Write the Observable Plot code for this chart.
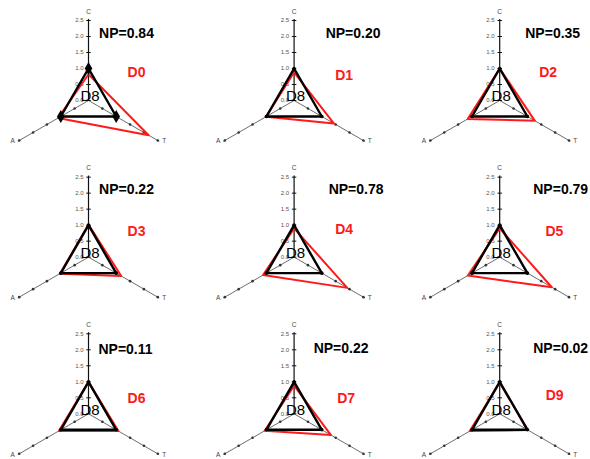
<!DOCTYPE html>
<html><head><meta charset="utf-8">
<script src="https://cdn.jsdelivr.net/npm/d3@7"></script>
<script src="https://cdn.jsdelivr.net/npm/@observablehq/plot@0.6"></script>
<style>html,body{margin:0;padding:0;background:#fff;overflow:hidden}</style>
</head><body><div id="chart"></div>
<script>
// ---- data ----
const panelLabels = ["D0","D1","D2","D3","D4","D5","D6","D7","D9"];
const npValues = [0.84, 0.20, 0.35, 0.22, 0.78, 0.79, 0.11, 0.22, 0.02];
const axisNames = ["C", "A", "T"];
const referenceLabel = "D8";
const referenceValues = [1, 1, 1];
const cValues = [0.82, 0.88, 1.00, 1.02, 0.90, 0.90, 1.00, 0.88, 0.97];
const aValues = [1.10, 1.01, 1.15, 1.03, 1.12, 1.15, 1.07, 1.06, 1.08];
const tValues = [2.17, 1.44, 1.27, 1.18, 1.92, 1.88, 1.08, 1.33, 1.02];
const tickValues = [0, 0.5, 1, 1.5, 2, 2.5];
const tickLabels = ["0.0", "0.5", "1.0", "1.5", "2.0", "2.5"];

// ---- layout (not data) ----
const UNIT = 32;                 // px per value unit
const COLS = 3;
const COL_STEP = 205.6 / UNIT;
const ROW_STEP = 156.65 / UNIT;
const axisAngle = [90, 210, 330];
const npDx = [38, 59, 53, 38, 62, 61, 37, 47, 61];
const npDy = [-67, -67, -67, -68, -68, -68, -64, -65, -65];
const dDx = [48, 50, 48.5, 48, 50, 54.7, 48, 52, 55];
const dDy = [-28, -25, -28, -26, -28, -26, -15, -15, -18];

const W = 590, H = 459;
const CX0 = 88, CY0 = 100;

function center(i) {
  return {cx: (i % COLS) * COL_STEP, cy: -Math.floor(i / COLS) * ROW_STEP};
}
function pt(i, k, r) {
  const {cx, cy} = center(i);
  const a = axisAngle[k] * Math.PI / 180;
  return {x: cx + r * Math.cos(a), y: cy + r * Math.sin(a)};
}

const redRows = [], refRows = [], axisRows = [], tickDots = [], cTicks = [], tickText = [], axisLabelRows = [];
const series = [cValues, aValues, tValues];
panelLabels.forEach((lab, i) => {
  axisNames.forEach((name, k) => {
    redRows.push({panel: lab, ...pt(i, k, series[k][i])});
    refRows.push({panel: lab, first: i === 0, ...pt(i, k, referenceValues[k])});
    const p0 = pt(i, k, 0), p1 = pt(i, k, 2.55);
    axisRows.push({axis: name, x1: p0.x, y1: p0.y, x2: p1.x, y2: p1.y});
    axisLabelRows.push({name, k, ...pt(i, k, k === 0 ? 2.78 : 2.55)});
    tickValues.forEach((v, j) => {
      if (k === 0) {
        const p = pt(i, k, v);
        cTicks.push({x1: p.x - 0.07, x2: p.x + 0.07, y: p.y});
        tickText.push({label: tickLabels[j], ...p});
      } else if (v > 0) {
        tickDots.push(pt(i, k, v));
      }
    });
  });
});
const textRows = panelLabels.map((lab, i) => {
  const {cx, cy} = center(i);
  return {
    lab, np: "NP=" + npValues[i].toFixed(2),
    nx: cx + npDx[i] / UNIT, ny: cy - npDy[i] / UNIT,
    dx: cx + dDx[i] / UNIT, dy: cy - dDy[i] / UNIT,
    rx: cx + 1.5 / UNIT, ry: cy + 4 / UNIT
  };
});

const font = "Liberation Sans, Arial, sans-serif";
const chart = Plot.plot({
  width: W, height: H,
  margin: 0,
  style: {fontFamily: font, background: "#fff"},
  x: {domain: [-CX0 / UNIT, (W - CX0) / UNIT], range: [0, W], axis: null},
  y: {domain: [-(H - CY0) / UNIT, CY0 / UNIT], range: [H, 0], axis: null},
  marks: [
    Plot.link(axisRows.filter(d => d.axis !== "C"), {x1: "x1", y1: "y1", x2: "x2", y2: "y2", stroke: "#6e6e6e", strokeWidth: 1}),
    Plot.link(axisRows.filter(d => d.axis === "C"), {x1: "x1", y1: "y1", x2: "x2", y2: "y2", stroke: "#111", strokeWidth: 1.2}),
    Plot.link(cTicks, {x1: "x1", x2: "x2", y1: "y", y2: "y", stroke: "#111", strokeWidth: 1}),
    Plot.dot(tickDots, {x: "x", y: "y", r: 1.3, fill: "#333", stroke: null}),
    Plot.text(tickText, {x: "x", y: "y", text: "label", dx: -5, textAnchor: "end", fontSize: 6, fill: "#555"}),
    Plot.text(axisLabelRows.filter(d => d.k === 0), {x: "x", y: "y", text: "name", fontSize: 6.5, fill: "#444"}),
    Plot.text(axisLabelRows.filter(d => d.k === 1), {x: "x", y: "y", text: "name", dx: -3, textAnchor: "end", fontSize: 6.5, fill: "#444"}),
    Plot.text(axisLabelRows.filter(d => d.k === 2), {x: "x", y: "y", text: "name", dx: 3, textAnchor: "start", fontSize: 6.5, fill: "#444"}),
    Plot.line(redRows, {x: "x", y: "y", z: "panel", curve: "linear-closed", stroke: "#ff1a1a", strokeWidth: 2}),
    Plot.line(refRows, {x: "x", y: "y", z: "panel", curve: "linear-closed", stroke: "#000", strokeWidth: 2.4}),
    Plot.dot(refRows.filter(d => !d.first), {x: "x", y: "y", r: 1.8, fill: "#000", stroke: null}),
    Plot.dot(refRows.filter(d => d.first), {x: "x", y: "y", r: 4, symbol: "diamond", fill: "#000", stroke: null}),
    Plot.text(textRows, {x: "rx", y: "ry", text: () => referenceLabel, fontSize: 15, fill: "#000"}),
    Plot.text(textRows, {x: "nx", y: "ny", text: "np", fontSize: 14, fontWeight: "bold", fill: "#000"}),
    Plot.text(textRows, {x: "dx", y: "dy", text: "lab", fontSize: 14, fontWeight: "bold", fill: "#ff1a1a"})
  ]
});
document.getElementById("chart").append(chart);
</script>
</body></html>
